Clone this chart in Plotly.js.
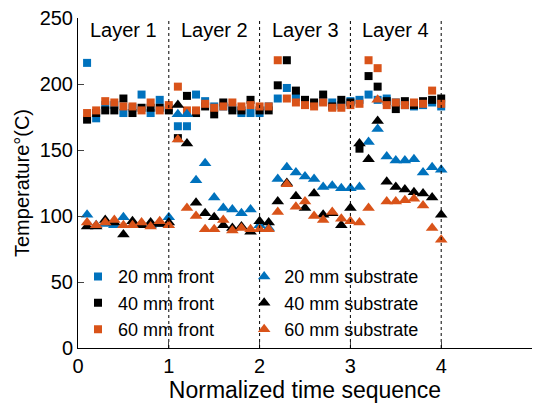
<!DOCTYPE html>
<html>
<head>
<meta charset="utf-8">
<script src="https://cdn.plot.ly/plotly-3.0.1.min.js"></script>
<style>html,body{margin:0;padding:0;background:#fff;}#chart{width:537px;height:405px;}</style>
</head>
<body>
<div id="chart"></div>
<script>
// Normalized time sequence (x) shared by every series
const timeSeq = [0.1,0.2,0.3,0.4,0.5,0.6,0.7,0.8,0.9,1.0,
                 1.1,1.2,1.3,1.4,1.5,1.6,1.7,1.8,1.9,2.0,
                 2.1,2.2,2.3,2.4,2.5,2.6,2.7,2.8,2.9,3.0,
                 3.1,3.2,3.3,3.4,3.5,3.6,3.7,3.8,3.9,4.0];

const front20 = [216,174,184,184,178,182,192,178,188,182,
                 168,168,192,187,183,183,182,178,178,178,
                 183,189,197,190,186,185,187,186,184,187,
                 188,192,188,189,186,184,183,184,186,183];
const front40 = [173,178,180,180,189,178,182,182,182,180,
                 159,191,178,183,177,186,180,180,188,180,
                 180,199,218,195,188,186,192,183,188,186,
                 151,206,198,187,181,187,184,187,188,189];
const front60 = [178,180,187,186,183,183,180,186,180,184,
                 198,180,180,185,182,183,186,183,184,183,
                 183,218,189,186,184,183,186,182,182,184,
                 185,218,212,184,186,184,186,185,195,185];

const sub20 = [101,93,94,93,99,93,93,93,94,99,
               177,177,127,140,114,106,105,102,105,93,
               91,128,137,133,130,128,122,123,121,121,
               122,156,166,145,142,142,143,133,137,135];
const sub40 = [92,92,97,95,86,96,93,95,94,95,
               184,155,110,102,99,93,91,92,88,96,
               95,111,125,115,106,117,101,102,93,106,
               155,143,172,126,122,120,118,117,114,101];
const sub60 = [95,93,95,97,93,93,95,92,96,93,
               158,106,100,90,90,97,89,91,90,90,
               90,103,124,107,111,100,97,103,98,96,
               95,106,188,111,111,112,113,108,91,82];

const layerNames = ['Layer 1','Layer 2','Layer 3','Layer 4'];
const layerCenters = [0.5,1.5,2.5,3.5];
const layerBounds = [1,2,3,4];

const BLUE = '#0072bd', BLACK = '#000000', ORANGE = '#d95319';
const FONT = 'Liberation Sans, Arial, sans-serif';

function sq(name, y, color){
  return {x: timeSeq, y: y, name: name, type: 'scatter', mode: 'markers',
    marker: {symbol: 'square', size: 8, color: color}, legend: 'legend'};
}
function tri(name, y, color){
  return {x: timeSeq, y: y, name: name, type: 'scatter', mode: 'markers',
    marker: {symbol: 'triangle-up', size: 11, color: color}, legend: 'legend2'};
}

const traces = [
  sq('20 mm front', front20, BLUE),
  sq('40 mm front', front40, BLACK),
  sq('60 mm front', front60, ORANGE),
  tri('20 mm substrate', sub20, BLUE),
  tri('40 mm substrate', sub40, BLACK),
  tri('60 mm substrate', sub60, ORANGE)
];

const shapes = layerBounds.map(b => ({type: 'line', xref: 'x', yref: 'paper',
  x0: b, x1: b, y0: 0, y1: 1, line: {color: '#000', width: 1, dash: 'dot'}}));

const annotations = layerNames.map((t, i) => ({x: layerCenters[i], y: 241, xref: 'x', yref: 'y',
  text: t, showarrow: false, font: {family: FONT, size: 20, color: '#000'}}));

const legendFont = {family: FONT, size: 18, color: '#000'};

const layout = {
  width: 537, height: 405,
  margin: {l: 78, r: 5, t: 18, b: 57},
  paper_bgcolor: '#fff', plot_bgcolor: '#fff',
  font: {family: FONT, size: 20, color: '#000'},
  showlegend: true,
  legend: {orientation: 'v', x: 0, y: 0.272, xanchor: 'left', yanchor: 'top',
    bgcolor: 'rgba(0,0,0,0)', font: legendFont, traceorder: 'normal'},
  legend2: {orientation: 'v', x: 0.366, y: 0.272, xanchor: 'left', yanchor: 'top',
    bgcolor: 'rgba(0,0,0,0)', font: legendFont, traceorder: 'normal'},
  xaxis: {range: [0, 5], tickvals: [0,1,2,3,4,5], ticks: 'inside', ticklen: 6,
    showline: true, linecolor: '#000', linewidth: 1, showgrid: false, zeroline: false,
    tickfont: {family: FONT, size: 20}, automargin: false,
    title: {text: 'Normalized time sequence', font: {family: FONT, size: 23}, standoff: 0}},
  yaxis: {range: [0, 250], tickvals: [0,50,100,150,200,250], ticks: 'inside', ticklen: 6,
    showline: true, linecolor: '#000', linewidth: 1, showgrid: false, zeroline: false,
    tickfont: {family: FONT, size: 20}, automargin: false,
    title: {text: 'Temperature°(C)', font: {family: FONT, size: 20}, standoff: 4}},
  shapes: shapes,
  annotations: annotations
};

Plotly.newPlot('chart', traces, layout, {displayModeBar: false, staticPlot: true});
</script>
</body>
</html>
